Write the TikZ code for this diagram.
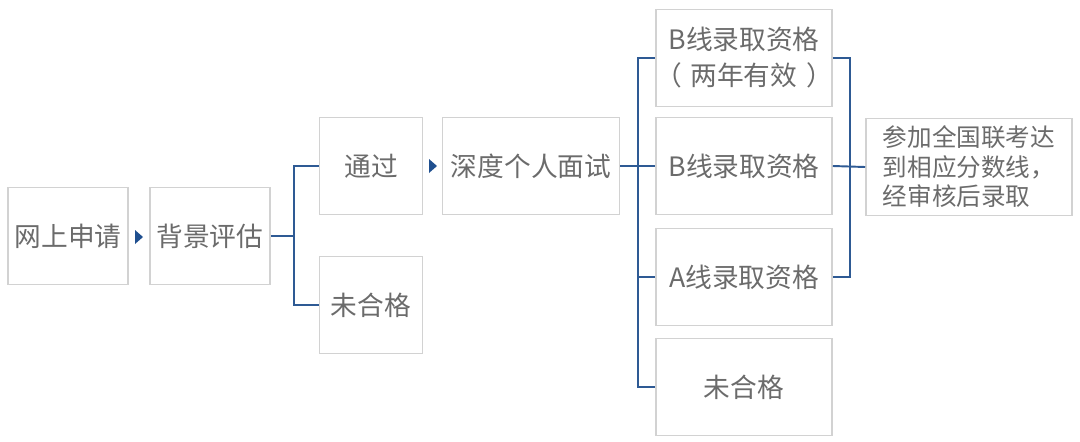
\documentclass[tikz,border=0pt]{standalone}
\usepackage{fontspec}
\setmainfont{Noto Sans CJK SC}
\definecolor{boxgray}{HTML}{D2D2D2}
\definecolor{textgray}{HTML}{6B6B6B}
\definecolor{linkblue}{HTML}{2E5A94}
\definecolor{tipblue}{HTML}{1F4F8F}
\tikzset{
  stage/.style={rectangle, draw=boxgray, line width=0.9pt, text=textgray,
    font=\fontsize{15.2}{17}\selectfont, minimum height=1.94cm, inner sep=2pt},
  link/.style={draw=linkblue, line width=1.1pt},
  tip/.style={fill=tipblue}
}
\begin{document}
\begin{tikzpicture}[x=0.02cm, y=-0.02cm]
	\useasboundingbox (0, 0) rectangle (1080, 441);

	\node (ws) [stage, minimum width=2.4cm] at (68, 236) {网上申请};
    \node (bj) [stage, minimum width=2.4cm] at (210, 236) {背景评估};
    \node (tg) [stage, minimum width=2.06cm] at (371, 166) {通过};
    \node (wh1) [stage, minimum width=2.06cm] at (371, 305) {未合格};
    \node (ms) [stage, minimum width=3.54cm] at (531, 166) {深度个人面试};

    \node (r1) [stage, minimum width=3.52cm, align=center, font=\fontsize{15.2}{20.5}\selectfont] at (744, 58)
      {B线录取资格\\\makebox[0pt]{（\hspace{0.33em}两年有效\hspace{0.33em}）}};
    \node (r2) [stage, minimum width=3.52cm] at (744, 166) {B线录取资格};
    \node (r3) [stage, minimum width=3.52cm] at (744, 277) {A线录取资格};
    \node (r4) [stage, minimum width=3.52cm] at (744, 387) {未合格};
    \node (fin) [stage, minimum width=4.12cm, align=left, font=\fontsize{14}{16.8}\selectfont] at (969, 167)
      {参加全国联考达\\到相应分数线，\\经审核后录取};

    % small arrow heads between boxes
    \coordinate (t1) at (139, 237);
    \coordinate (t2) at (433, 166);
    \fill[tip] (t1) ++(-4, -7) -- ++(8, 7) -- ++(-8, 7) -- cycle;
    \fill[tip] (t2) ++(-4, -7) -- ++(8, 7) -- ++(-8, 7) -- cycle;

    % brackets
    \path[link] (bj.east) -- ++(23, 0) coordinate (k1);
    \path[link]
    (k1) |- (tg.west)
    (k1) |- (wh1.west);

    \path[link] (ms.east) -- ++(18, 0) coordinate (k2);
    \path[link]
    (k2) |- (r1.west)
    (k2) |- (r3.west)
    (k2) |- (r4.west)
    (k2) -- (r2.west);

    \path[link] (r1.east) -- ++(17, 0) |- (r3.east);
    \path[link] (r2.east) -- (fin.west);

\end{tikzpicture}
\end{document}
